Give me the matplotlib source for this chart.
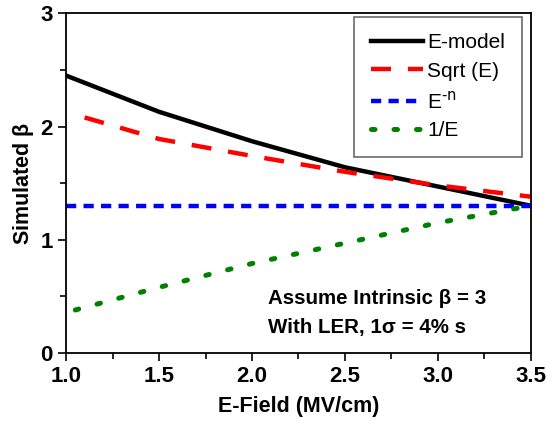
import numpy as np
import matplotlib
matplotlib.use('Agg')
import matplotlib.pyplot as plt
from matplotlib.ticker import MultipleLocator

plt.rcParams['font.family'] = ['Liberation Sans', 'DejaVu Sans']

# Values
e_model_x = [1.0, 1.5, 2.0, 2.5, 3.0, 3.5]
e_model_y = [2.45, 2.13, 1.87, 1.64, 1.47, 1.30]

sqrt_x = [1.1, 1.5, 2.0, 2.5, 3.0, 3.5]
sqrt_y = [2.08, 1.89, 1.74, 1.60, 1.48, 1.38]

en_x = [1.0, 3.5]
en_y = [1.30, 1.30]

inv_x = [1.05, 1.5, 2.0, 2.5, 3.0, 3.5]
inv_y = [0.38, 0.58, 0.79, 0.97, 1.15, 1.30]

fig = plt.figure(figsize=(5.47, 4.21), dpi=100)
ax = fig.add_axes([0.1207, 0.1615, 0.850, 0.807])

ax.plot(e_model_x, e_model_y, color='black', lw=3.2, label='E-model')
ax.plot(sqrt_x, sqrt_y, color='red', lw=3.2, dashes=(4.5, 3.8), label='Sqrt (E)')
ax.plot(en_x, en_y, color='blue', lw=3.2, dashes=(2.3, 1.64), label='E$^{\\text{-n}}$')
ax.plot(inv_x, inv_y, color='green', lw=3.6, dashes=(0.7, 3.8),
        dash_capstyle='round', label='1/E')

ax.set_xlim(1.0, 3.5)
ax.set_ylim(0, 3)
ax.xaxis.set_major_locator(MultipleLocator(0.5))
ax.xaxis.set_minor_locator(MultipleLocator(0.25))
ax.yaxis.set_major_locator(MultipleLocator(1))
ax.yaxis.set_minor_locator(MultipleLocator(0.5))
ax.tick_params(which='both', direction='out', width=1.2)
ax.tick_params(which='major', length=6, labelsize=16)
ax.tick_params(which='minor', length=4)
ax.tick_params(top=False, right=False)
ax.xaxis.set_major_formatter(matplotlib.ticker.FormatStrFormatter('%.1f'))
for lbl in ax.get_xticklabels() + ax.get_yticklabels():
    lbl.set_fontweight('bold')
for s in ax.spines.values():
    s.set_linewidth(1.3)

ax.set_xlabel('E-Field (MV/cm)', fontsize=15.5, fontweight='bold', labelpad=6)
ax.set_ylabel('Simulated $\\mathregular{\\beta}$', fontsize=15.5, fontweight='bold', labelpad=3)

ax.text(0.434, 0.159, 'Assume Intrinsic \u03b2 = 3', transform=ax.transAxes,
        fontsize=14.8, fontweight='bold', va='center', ha='left')
ax.text(0.434, 0.074, 'With LER, 1\u03c3 = 4% s', transform=ax.transAxes,
        fontsize=14.8, fontweight='bold', va='center', ha='left')

leg = ax.legend(loc='upper right', bbox_to_anchor=(0.98, 0.99), fontsize=15,
                frameon=True, fancybox=False, edgecolor='#444444',
                handlelength=2.5, handletextpad=0.2, labelspacing=0.45,
                borderpad=0.8, borderaxespad=0)
leg.get_frame().set_linewidth(1.2)

fig.savefig('out.png', dpi=100)
